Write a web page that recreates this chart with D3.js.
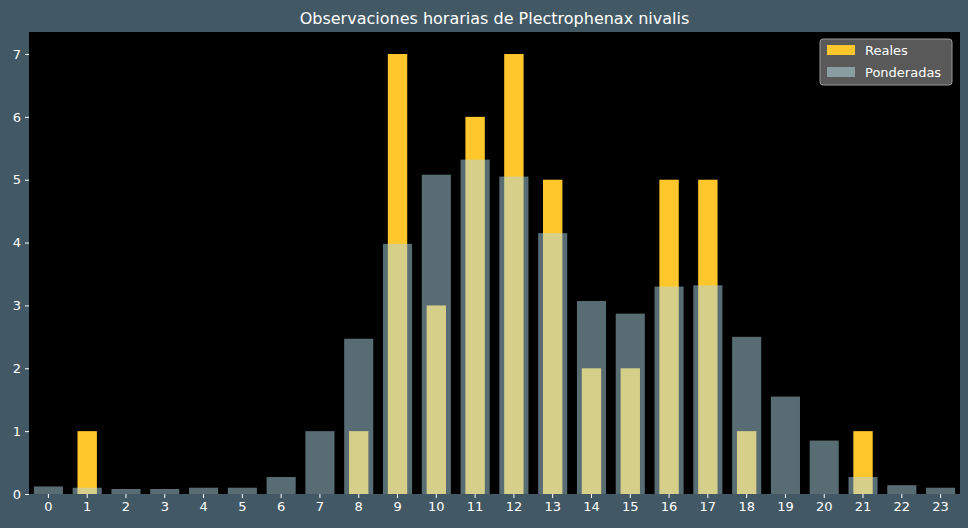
<!DOCTYPE html><html><head><meta charset="utf-8"><script src="https://cdn.jsdelivr.net/npm/d3@7"></script>
<style>body{margin:0;background:#425864}svg{display:block;font-family:"DejaVu Sans",sans-serif}</style></head><body><svg id="c" width="968" height="528"></svg>
<script>
const hours=d3.range(24).map(String);
const reales=[0,1,0,0,0,0,0,0,1,7,3,6,7,5,2,2,5,5,1,0,0,1,0,0];
const ponderadas=[0.12,0.1,0.08,0.08,0.1,0.1,0.27,1.0,2.47,3.98,5.08,5.32,5.05,4.15,3.07,2.87,3.3,3.32,2.5,1.55,0.85,0.27,0.14,0.1];
const yTicks=[0,1,2,3,4,5,6,7];
const svg=d3.select("#c");
const L=29,R=960,T=32,B=494;
svg.append("rect").attr("width",968).attr("height",528).attr("fill","#425864");
svg.append("rect").attr("x",L).attr("y",T).attr("width",R-L).attr("height",B-T).attr("fill","#000");
const x=d3.scaleBand().domain(hours).range([L,R]);
const y=d3.scaleLinear().domain([0,7.35]).range([B,T]);
const st=x.step();
svg.append("g").selectAll("rect").data(reales).join("rect")
 .attr("x",(d,i)=>x(hours[i])+st*0.25).attr("width",st*0.5)
 .attr("y",d=>y(d)).attr("height",d=>B-y(d)).attr("fill","#ffc72c");
svg.append("g").selectAll("rect").data(ponderadas).join("rect")
 .attr("x",(d,i)=>x(hours[i])+st*0.125).attr("width",st*0.75)
 .attr("y",d=>y(d)).attr("height",d=>B-y(d)).attr("fill","lightblue").attr("fill-opacity",0.5);
const xa=svg.append("g").attr("transform",`translate(0,${B})`).call(d3.axisBottom(x).tickSize(4).tickPadding(4));
const ya=svg.append("g").attr("transform",`translate(${L},0)`).call(d3.axisLeft(y).tickValues(yTicks).tickSize(4).tickPadding(4));
[xa,ya].forEach(a=>{a.select(".domain").remove();a.selectAll("line").attr("stroke","#fff");a.selectAll("text").attr("fill","#fff").attr("font-size",13).attr("font-family","DejaVu Sans");});
svg.append("text").attr("x",(L+R)/2).attr("y",24).attr("text-anchor","middle").attr("fill","#fff").attr("font-size",16).text("Observaciones horarias de Plectrophenax nivalis");
const lg=svg.append("g");
lg.append("rect").attr("x",820).attr("y",39).attr("width",132).attr("height",46).attr("rx",3).attr("fill","#595959").attr("stroke","#999");
lg.append("rect").attr("x",827).attr("y",45).attr("width",28).attr("height",10).attr("fill","#ffc72c");
lg.append("rect").attr("x",827).attr("y",67).attr("width",28).attr("height",10).attr("fill","#8a9da3");
lg.append("text").attr("x",865).attr("y",55).attr("fill","#fff").attr("font-size",13).text("Reales");
lg.append("text").attr("x",865).attr("y",77).attr("fill","#fff").attr("font-size",13).text("Ponderadas");
</script></body></html>
